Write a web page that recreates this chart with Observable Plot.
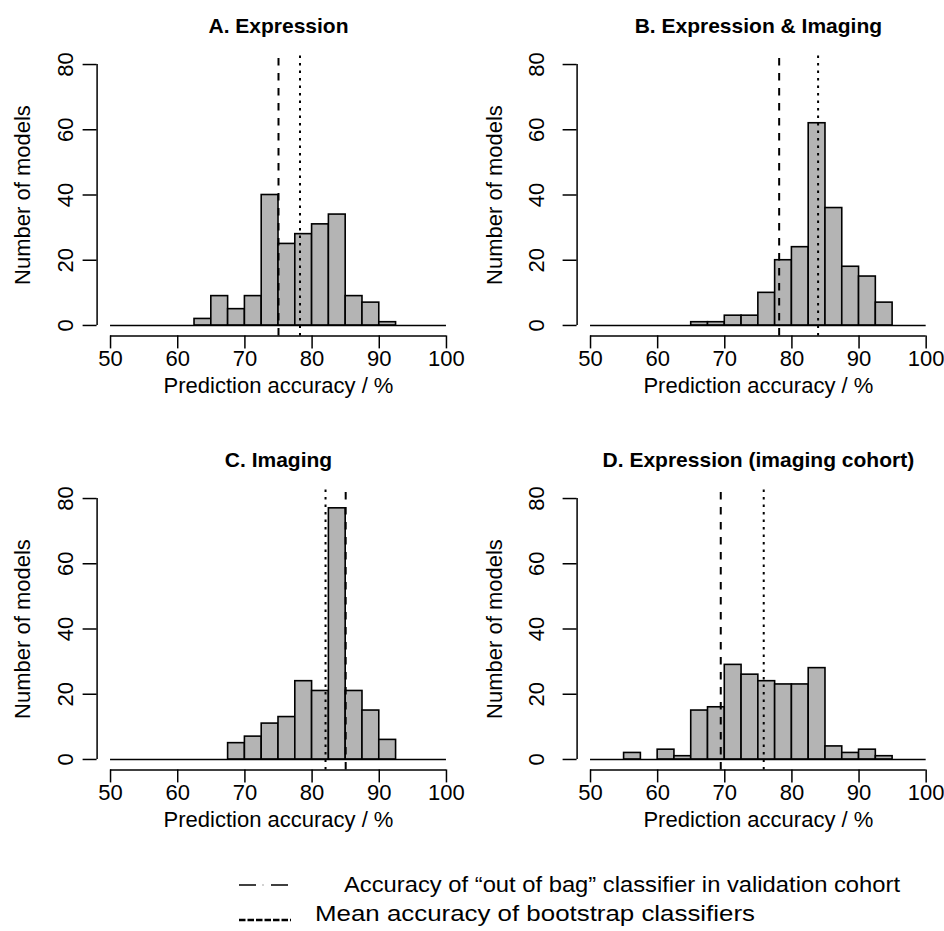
<!DOCTYPE html>
<html>
<head>
<meta charset="utf-8">
<script src="https://cdn.jsdelivr.net/npm/d3@7"></script>
<script src="https://cdn.jsdelivr.net/npm/@observablehq/plot@0.6"></script>
<style>
  html, body { margin: 0; padding: 0; background: #fff; }
  #wrap { width: 944px; font-family: "Liberation Sans", Arial, sans-serif; }
  #grid { display: grid; grid-template-columns: 472px 472px; grid-template-rows: 434px 434px; }
  #grid svg { display: block; }
  #legend { display: block; }
</style>
</head>
<body>
<div id="wrap">
  <div id="grid"></div>
  <svg id="legend" width="944" height="63"></svg>
</div>
<script>
// ---- data ----
const binWidth = 2.5;
const xTicks = [50, 60, 70, 80, 90, 100];
const yTicks = [0, 20, 40, 60, 80];
const titles = ["A. Expression", "B. Expression & Imaging", "C. Imaging", "D. Expression (imaging cohort)"];
const binStarts = [62.5, 65, 67.5, 55];
const countsA = [2, 9, 5, 9, 40, 25, 28, 31, 34, 9, 7, 1];
const countsB = [1, 1, 3, 3, 10, 20, 24, 62, 36, 18, 15, 7];
const countsC = [5, 7, 11, 13, 24, 21, 77, 21, 15, 6];
const countsD = [2, 0, 3, 1, 15, 16, 29, 26, 24, 23, 23, 28, 4, 2, 3, 1];
const oobAccuracy = [75.0, 78.1, 85.0, 69.4];   // dashed
const meanAccuracy = [78.2, 83.9, 82.0, 75.8];  // dotted
const xLabel = "Prediction accuracy / %";
const yLabel = "Number of models";
const legendLabels = ["Accuracy of \u201Cout of bag\u201D classifier in validation cohort", "Mean accuracy of bootstrap classifiers"];

const allCounts = [countsA, countsB, countsC, countsD];
const xDomain = [48, 102];
const yDomain = [-3.2, 83.2];
const W = 472, H = 434;
const marginTop = 53.6, marginBottom = 98.6;
const lefts = [96.6, 104.6, 96.6, 104.6];
const rights = [12.6, 4.9, 12.6, 4.9];
const FONT = "Liberation Sans, Arial, sans-serif";

const grid = document.getElementById("grid");
allCounts.forEach((counts, p) => {
  const bins = counts.map((c, i) => ({x1: binStarts[p] + i * binWidth, x2: binStarts[p] + (i + 1) * binWidth, count: c}));
  const ml = lefts[p];
  const chart = Plot.plot({
    width: W, height: H,
    marginLeft: ml, marginRight: rights[p], marginTop, marginBottom,
    style: {fontFamily: FONT, fontSize: "22px", color: "black", background: "white"},
    x: {domain: xDomain, axis: null},
    y: {domain: yDomain, axis: null},
    marks: [
      Plot.ruleY([0], {x1: xTicks[0], x2: xTicks[xTicks.length - 1], stroke: "black", strokeWidth: 1.5}),
      Plot.rectY(bins, {x1: "x1", x2: "x2", y1: 0, y2: "count", fill: "#b4b4b4", stroke: "black", strokeWidth: 1.6}),
      Plot.ruleX([oobAccuracy[p]], {y1: yDomain[0], y2: yDomain[1], stroke: "black", strokeWidth: 2, strokeDasharray: "7.5,7.5"}),
      Plot.ruleX([meanAccuracy[p]], {y1: yDomain[0], y2: yDomain[1], stroke: "black", strokeWidth: 2, strokeDasharray: "2.5,5"}),
      // x axis
      Plot.ruleY([yDomain[0]], {x1: xTicks[0], x2: xTicks[xTicks.length - 1], stroke: "black", strokeWidth: 1.5}),
      Plot.axisX(xTicks, {anchor: "bottom", label: null, tickSize: 13, tickPadding: 1, stroke: "black", strokeWidth: 1.5, fill: "black", fontSize: 22}),
      // y axis
      Plot.ruleX([xDomain[0]], {y1: yTicks[0], y2: yTicks[yTicks.length - 1], stroke: "black", strokeWidth: 1.5}),
      Plot.axisY(yTicks, {anchor: "left", label: null, tickSize: 14, tickFormat: () => "", stroke: "black", strokeWidth: 1.5}),
      Plot.text(yTicks, {y: d => d, text: d => String(d), frameAnchor: "left", rotate: -90, textAnchor: "middle", lineAnchor: "bottom", dx: 72 - ml, fontSize: 22, fill: "black"}),
      Plot.text([yLabel], {frameAnchor: "left", rotate: -90, textAnchor: "middle", lineAnchor: "bottom", dx: 29 - ml, fontSize: 22, fill: "black"}),
      Plot.text([xLabel], {frameAnchor: "bottom", lineAnchor: "bottom", dy: 392 - (H - marginBottom), fontSize: 22, fill: "black"}),
      Plot.text([titles[p]], {frameAnchor: "top", lineAnchor: "bottom", dy: 32 - marginTop, fontSize: 21, fontWeight: "bold", fill: "black"})
    ]
  });
  grid.appendChild(chart);
});

// ---- legend ----
const ns = "http://www.w3.org/2000/svg";
const lg = document.getElementById("legend");
function el(tag, attrs, text) {
  const e = document.createElementNS(ns, tag);
  for (const k in attrs) e.setAttribute(k, attrs[k]);
  if (text) e.textContent = text;
  lg.appendChild(e);
  return e;
}
// symbols (y relative to legend top at 868)
el("line", {x1: 239, x2: 256, y1: 17, y2: 17, stroke: "black", "stroke-width": 1.5});
el("line", {x1: 262.5, x2: 263.5, y1: 17, y2: 17, stroke: "#888", "stroke-width": 1.5});
el("line", {x1: 271, x2: 288, y1: 17, y2: 17, stroke: "black", "stroke-width": 1.5});
el("line", {x1: 239, x2: 291, y1: 52, y2: 52, stroke: "black", "stroke-width": 2.5, "stroke-dasharray": "6.5,2"});
el("text", {x: 344, y: 24, "font-family": FONT, "font-size": 22, textLength: 556, lengthAdjust: "spacingAndGlyphs"}, legendLabels[0]);
el("text", {x: 315, y: 53, "font-family": FONT, "font-size": 22, textLength: 440, lengthAdjust: "spacingAndGlyphs"}, legendLabels[1]);
</script>
</body>
</html>
